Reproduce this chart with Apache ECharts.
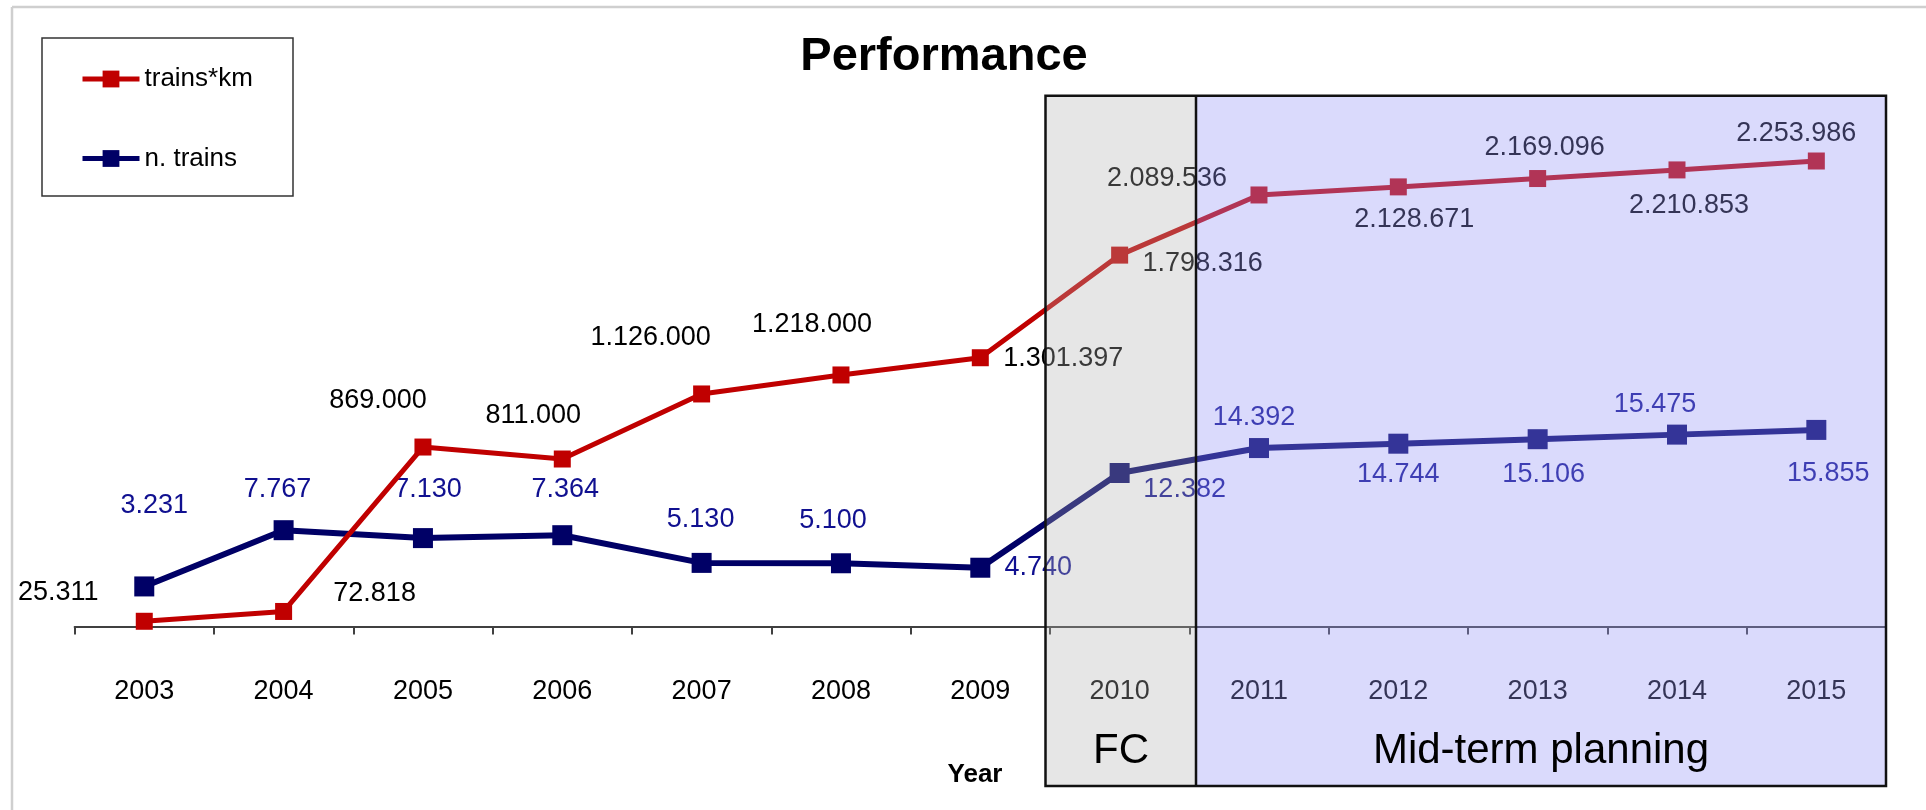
<!DOCTYPE html>
<html><head><meta charset="utf-8">
<script src="https://cdn.jsdelivr.net/npm/echarts@6/dist/echarts.min.js"></script>
<style>html,body{margin:0;padding:0;background:#fff}#c{width:1926px;height:810px}</style>
</head><body><div id="c"></div><script>
const years = ['2003','2004','2005','2006','2007','2008','2009','2010','2011','2012','2013','2014','2015'];
const trainsKm = [25311, 72818, 869000, 811000, 1126000, 1218000, 1301397, 1798316, 2089536, 2128671, 2169096, 2210853, 2253986];
const nTrains = [3231, 7767, 7130, 7364, 5130, 5100, 4740, 12382, 14392, 14744, 15106, 15475, 15855];
const seriesNames = ['trains*km', 'n. trains'];

// label placement (pixel offsets from each marker centre), kept apart from the values
const kmLabelOffset = [[-86,-29],[91,-18],[-45,-46],[-29,-43],[-51,-56],[-29,-50],[83,1],[83,8],[-92,-16],[16,33],[7,-31],[12,36],[-20,-27]];
const trLabelOffset = [[10,-81],[-6,-41],[5,-49],[3,-46],[-1,-43],[-8,-43],[58,0],[65,17],[-5,-31],[0,31],[6,35],[-22,-30],[12,44]];

const FONT = '"Liberation Sans", Arial, sans-serif';
const fmt = v => String(v).replace(/\B(?=(\d{3})+(?!\d))/g, '.');

const chart = echarts.init(document.getElementById('c'), null, {renderer: 'canvas'});
chart.setOption({
  animation: false,
  backgroundColor: '#fff',
  title: {
    text: 'Performance', left: 944, top: 34, textAlign: 'center', padding: 0,
    textStyle: {fontFamily: FONT, fontSize: 47, fontWeight: 'bold', color: '#000'}
  },
  legend: {
    data: seriesNames, orient: 'vertical', left: 80, top: 66,
    itemWidth: 57, itemHeight: 21, itemGap: 53.5, selectedMode: false, padding: 0,
    lineStyle: {width: 5},
    textStyle: {fontFamily: FONT, fontSize: 26, lineHeight: 21, color: '#000'}
  },
  grid: {left: 74.6, right: 40, top: 110.2, bottom: 183.5},
  xAxis: {
    type: 'category', data: years, boundaryGap: true,
    axisLine: {lineStyle: {color: '#404040', width: 2}},
    axisTick: {show: true, length: 8, lineStyle: {color: '#404040', width: 2}},
    axisLabel: {fontFamily: FONT, fontSize: 27, color: '#000', margin: 52, interval: 0},
    splitLine: {show: false}
  },
  yAxis: [
    {type: 'value', min: 0, max: 2500000, show: false, splitLine: {show: false}},
    {type: 'value', min: 0, max: 41640, show: false, splitLine: {show: false}}
  ],
  series: [
    {
      name: seriesNames[1], type: 'line', yAxisIndex: 1, z: 2,
      data: nTrains.map((v, i) => ({value: v, label: {offset: trLabelOffset[i]}})),
      symbol: 'rect', symbolSize: 20,
      lineStyle: {color: '#000066', width: 6},
      itemStyle: {color: '#000066'},
      label: {show: true, position: 'inside', align: 'center', verticalAlign: 'middle',
        fontFamily: FONT, fontSize: 27, color: '#101090', formatter: p => fmt(p.value)},
      emphasis: {disabled: true}
    },
    {
      name: seriesNames[0], type: 'line', yAxisIndex: 0, z: 3,
      data: trainsKm.map((v, i) => ({value: v, label: {offset: kmLabelOffset[i]}})),
      symbol: 'rect', symbolSize: 17,
      lineStyle: {color: '#c00000', width: 5},
      itemStyle: {color: '#c00000'},
      label: {show: true, position: 'inside', align: 'center', verticalAlign: 'middle',
        fontFamily: FONT, fontSize: 27, color: '#000', formatter: p => fmt(p.value)},
      emphasis: {disabled: true}
    }
  ],
  graphic: [
    {type: 'line', z: 50, shape: {x1: 12, y1: 7, x2: 1926, y2: 7}, style: {stroke: '#cfcfcf', lineWidth: 2.5}},
    {type: 'line', z: 50, shape: {x1: 12, y1: 7, x2: 12, y2: 810}, style: {stroke: '#cfcfcf', lineWidth: 2.5}},
    {type: 'rect', z: 50, shape: {x: 42, y: 38, width: 251, height: 158}, style: {fill: 'none', stroke: '#333', lineWidth: 1.5}},
    {type: 'rect', z: 100, shape: {x: 1045.5, y: 95.7, width: 150.5, height: 690.3}, style: {fill: 'rgba(176,176,176,0.32)'}},
    {type: 'rect', z: 100, shape: {x: 1196, y: 95.7, width: 690, height: 690.3}, style: {fill: 'rgba(149,149,246,0.35)'}},
    {type: 'rect', z: 101, shape: {x: 1045.5, y: 95.7, width: 840.5, height: 690.3}, style: {fill: 'none', stroke: '#111', lineWidth: 2.5}},
    {type: 'line', z: 101, shape: {x1: 1196, y1: 95.7, x2: 1196, y2: 786}, style: {stroke: '#111', lineWidth: 2.5}},
    {type: 'text', z: 102, style: {text: 'FC', x: 1121, y: 751, textAlign: 'center', textVerticalAlign: 'middle', align: 'center', verticalAlign: 'middle', fontFamily: FONT, fontSize: 42, fill: '#000'}},
    {type: 'text', z: 102, style: {text: 'Mid-term planning', x: 1541, y: 751, textAlign: 'center', textVerticalAlign: 'middle', align: 'center', verticalAlign: 'middle', fontFamily: FONT, fontSize: 42, fill: '#000'}},
    {type: 'text', z: 102, style: {text: 'Year', x: 975, y: 775, textAlign: 'center', textVerticalAlign: 'middle', align: 'center', verticalAlign: 'middle', fontFamily: FONT, fontSize: 26, fontWeight: 'bold', fill: '#000'}}
  ]
});
</script></body></html>
